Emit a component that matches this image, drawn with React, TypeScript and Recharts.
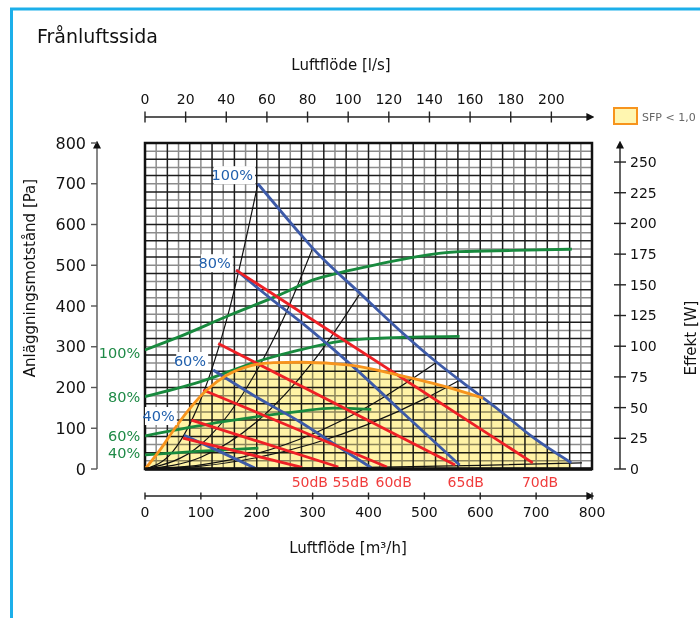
import React from 'react';
import {
  ComposedChart,
  Line,
  Area,
  XAxis,
  YAxis,
  CartesianGrid,
  ReferenceArea,
  ReferenceLine,
  ReferenceDot,
} from 'recharts';

type Pt = [number, number];

const FONT = '"DejaVu Sans", Verdana, sans-serif';

// axis ticks
const flowTicks = [0, 100, 200, 300, 400, 500, 600, 700, 800];
const lsTicks = [0, 20, 40, 60, 80, 100, 120, 140, 160, 180, 200];
const paTicks = [0, 100, 200, 300, 400, 500, 600, 700, 800];
const wTicks = [0, 25, 50, 75, 100, 125, 150, 175, 200, 225, 250];
const gridMajor = [0, 40, 80, 120, 160, 200, 240, 280, 320, 360, 400, 440, 480, 520, 560, 600, 640, 680, 720, 760, 800];
const gridMinor = [20, 60, 100, 140, 180, 220, 260, 300, 340, 380, 420, 460, 500, 540, 580, 620, 660, 700, 740, 780];

// anläggningskurvor (svarta), [m3/h, Pa]
const sysA: Pt[] = [[0, 0], [50, 43], [100, 171], [150, 386], [202, 700]];
const sysB: Pt[] = [[0, 0], [100, 60], [150, 135], [200, 241], [250, 376], [300, 542]];
const sysC: Pt[] = [[0, 0], [100, 29], [200, 116], [300, 262], [385, 431]];
const sysD: Pt[] = [[0, 0], [100, 10], [200, 38], [300, 86], [400, 154], [522, 262]];
const sysE: Pt[] = [[0, 0], [100, 7], [200, 28], [300, 62], [400, 110], [500, 172], [563, 218]];
const sysF: Pt[] = [[0, 0], [200, 1], [400, 4], [600, 9], [782, 15]];

// fläktkurvor (blå), [m3/h, Pa]
const fan100: Pt[] = [[202, 700], [277, 578], [300, 542], [385, 431], [456, 340], [522, 262], [563, 218], [635, 143], [694, 78], [763, 15]];
const fan80: Pt[] = [[163, 488], [229, 414], [277, 363], [367, 258], [460, 140], [563, 10]];
const fan60: Pt[] = [[122, 243], [200, 176], [277, 116], [340, 60], [405, 3]];
const fan40: Pt[] = [[70, 83], [135, 42], [200, 0]];

// ljudnivå (röda), [m3/h, Pa]
const db70: Pt[] = [[163, 488], [694, 15]];
const db65: Pt[] = [[131, 308], [555, 10]];
const db60: Pt[] = [[104, 194], [433, 5]];
const db55: Pt[] = [[83, 120], [346, 5]];
const db50: Pt[] = [[68, 76], [281, 4]];

// effekt (gröna), [m3/h, W]
const pow100: Pt[] = [[0, 97], [63, 108], [150, 125], [242, 142], [301, 154], [349, 160], [420, 167], [487, 173], [563, 177], [660, 178], [764, 179]];
const pow80: Pt[] = [[0, 59], [98, 71], [211, 89], [277, 97], [349, 104], [420, 106.5], [563, 108]];
const pow60: Pt[] = [[0, 27], [140, 38.5], [277, 47], [337, 49.5], [405, 48.5]];
const pow40: Pt[] = [[0, 11.5], [100, 14.5], [203, 17]];

// SFP < 1,0 gräns (orange)
const sfpLimit: Pt[] = [[0, 0], [27, 47], [51, 95], [80, 148], [110, 193], [146, 230], [185, 252], [230, 261], [280, 262], [367, 255], [456, 230], [516, 210], [605, 174]];
const sfpFill: Pt[] = [...sfpLimit, ...fan100.filter(([q]) => q > 605)];

// etiketter
const fanLabels = ['100%', '80%', '60%', '40%'];
const fanLabelFlow = [197, 157, 113, 57];
const fanLabelPa = [721, 505, 265, 130];
const powLabels = ['100%', '80%', '60%', '40%'];
const powLabelW = [94.5, 58.5, 27, 13];
const powLabelFlow = -5;
const dbLabels = ['50dB', '55dB', '60dB', '65dB', '70dB'];
const dbLabelFlow = [295, 368, 445, 574, 707];
const dbLabelPa = -32;

const BLUE = '#3d5aa8';
const RED = '#ee2026';
const GREEN = '#188a3e';
const ORANGE = '#f7941d';

const toRows = (pts: Pt[]) => pts.map(([x, y]) => ({ x, y }));

function TagLabel({ cx, cy, text, color, box }: any) {
  const w = text.length * 9.3 + 4;
  return (
    <g>
      {box && <rect x={cx - w} y={cy - 9} width={w} height={18} fill="#fff" />}
      <text x={cx - 2} y={cy} dy="0.36em" textAnchor="end" fill={color} fontSize={14.5} fontFamily={FONT}>
        {text}
      </text>
    </g>
  );
}

export default function App() {
  const tickFont = { fill: '#111', fontSize: 14, fontFamily: FONT };
  const series = (pts: Pt[], key: string, stroke: string, width: number, yId = 'v2Pa', type: any = 'monotone') => (
    <Line
      key={key}
      data={toRows(pts)}
      xAxisId="v2Flow"
      yAxisId={yId}
      dataKey="y"
      type={type}
      stroke={stroke}
      strokeWidth={width}
      dot={false}
      activeDot={false}
      isAnimationActive={false}
    />
  );

  return (
    <div style={{ position: 'absolute', left: 0, top: 0, width: 700, height: 618, background: '#fff', overflow: 'hidden' }}>
      <style>{'.sfpFill { mix-blend-mode: multiply; }'}</style>
      <ComposedChart width={700} height={618} margin={{ top: 0, right: 0, bottom: 62, left: 0 }}>
        {/* spacer axes (s1*) sit next to the grid, the drawn axes (v2*) outside them */}
        <XAxis xAxisId="s1Top" orientation="top" type="number" domain={[0, 1]} allowDataOverflow height={26} tick={false} axisLine={false} tickLine={false} />
        <XAxis xAxisId="s1Bottom" orientation="bottom" type="number" domain={[0, 1]} allowDataOverflow height={27} tick={false} axisLine={false} tickLine={false} />
        <YAxis yAxisId="s1Left" orientation="left" type="number" domain={[0, 1]} allowDataOverflow width={48} tick={false} axisLine={false} tickLine={false} />
        <YAxis yAxisId="s1Right" orientation="right" type="number" domain={[0, 1]} allowDataOverflow width={28} tick={false} axisLine={false} tickLine={false} />
        <XAxis
          xAxisId="v2Ls"
          orientation="top"
          type="number"
          dataKey="x"
          domain={[0, 220]}
          allowDataOverflow
          ticks={lsTicks}
          interval={0}
          height={117}
          tickSize={11}
          tickMargin={2}
          tick={tickFont}
          axisLine={{ stroke: '#222', strokeWidth: 1.4, markerEnd: 'url(#arrowHead)' }}
          tickLine={{ stroke: '#222', strokeWidth: 1.4, transform: 'translate(0,5.5)' }}
        />
        <XAxis
          xAxisId="v2Flow"
          orientation="bottom"
          type="number"
          dataKey="x"
          domain={[0, 800]}
          allowDataOverflow
          ticks={flowTicks}
          interval={0}
          height={60}
          tickSize={7}
          tickMargin={4}
          tick={tickFont}
          axisLine={{ stroke: '#222', strokeWidth: 1.4, markerEnd: 'url(#arrowHead)' }}
          tickLine={{ stroke: '#222', strokeWidth: 1.4, transform: 'translate(0,-3.5)' }}
        />
        <YAxis
          yAxisId="v2Pa"
          orientation="left"
          type="number"
          domain={[0, 800]}
          allowDataOverflow
          ticks={paTicks}
          interval={0}
          width={97}
          tickSize={6}
          tickMargin={5}
          tick={{ ...tickFont, fontSize: 16 }}
          axisLine={{ stroke: '#555', strokeWidth: 1.4, markerStart: 'url(#arrowHead)' }}
          tickLine={{ stroke: '#555', strokeWidth: 1.4 }}
        />
        <YAxis
          yAxisId="v2W"
          orientation="right"
          type="number"
          domain={[0, 265.5]}
          allowDataOverflow
          ticks={wTicks}
          interval={0}
          width={80}
          tickSize={12}
          tickMargin={-2}
          tick={tickFont}
          axisLine={{ stroke: '#222', strokeWidth: 1.4, markerStart: 'url(#arrowHead)' }}
          tickLine={{ stroke: '#222', strokeWidth: 1.4, transform: 'translate(-6,0)' }}
        />

        <CartesianGrid xAxisId="v2Flow" yAxisId="v2Pa" verticalValues={gridMinor} horizontalValues={gridMinor} stroke="#8c8c8c" strokeWidth={1.5} />
        <CartesianGrid xAxisId="v2Flow" yAxisId="v2Pa" verticalValues={gridMajor} horizontalValues={gridMajor} stroke="#1c1c1c" strokeWidth={1.5} />

        {/* invisible carrier so the l/s axis gets its ticks */}
        <Line
          data={lsTicks.map((v) => ({ x: v, y: 0 }))}
          xAxisId="v2Ls"
          yAxisId="v2Pa"
          dataKey="y"
          stroke="none"
          dot={false}
          activeDot={false}
          isAnimationActive={false}
        />

        <Area
          className="sfpFill"
          data={toRows(sfpFill)}
          xAxisId="v2Flow"
          yAxisId="v2Pa"
          dataKey="y"
          type="monotone"
          stroke="none"
          fill="#fff3a6"
          fillOpacity={1}
          isAnimationActive={false}
        />

        {[sysA, sysB, sysC, sysD, sysE, sysF].map((c, i) => series(c, `sys${i}`, '#111', 1.2))}
        {[pow100, pow80, pow60, pow40].map((c, i) => series(c, `pow${i}`, GREEN, 2.8, 'v2W'))}
        {[fan100, fan80, fan60, fan40].map((c, i) => series(c, `fan${i}`, BLUE, 2.8))}
        {[db70, db65, db60, db55, db50].map((c, i) => series(c, `db${i}`, RED, 2.8, 'v2Pa', 'linear'))}
        {series(sfpLimit, 'sfp', ORANGE, 2.8)}

        <ReferenceArea xAxisId="v2Flow" yAxisId="v2Pa" x1={0} x2={800} y1={0} y2={800} fill="none" stroke="#111" strokeWidth={2.5} ifOverflow="visible" />
        <ReferenceLine xAxisId="v2Flow" yAxisId="v2Pa" y={0} stroke="#111" strokeWidth={3.5} ifOverflow="visible" />

        {fanLabels.map((t, i) => (
          <ReferenceDot
            key={`fl${i}`}
            xAxisId="v2Flow"
            yAxisId="v2Pa"
            x={fanLabelFlow[i]}
            y={fanLabelPa[i]}
            r={0}
            ifOverflow="visible"
            shape={(p: any) => <TagLabel cx={p.cx} cy={p.cy} text={t} color="#2160ad" box />}
          />
        ))}
        {powLabels.map((t, i) => (
          <ReferenceDot
            key={`pl${i}`}
            xAxisId="v2Flow"
            yAxisId="v2W"
            x={powLabelFlow}
            y={powLabelW[i]}
            r={0}
            ifOverflow="visible"
            shape={(p: any) => <TagLabel cx={p.cx} cy={p.cy} text={t} color="#1f8a47" />}
          />
        ))}
        {dbLabels.map((t, i) => (
          <ReferenceDot
            key={`dl${i}`}
            xAxisId="v2Flow"
            yAxisId="v2Pa"
            x={dbLabelFlow[i]}
            y={dbLabelPa}
            r={0}
            ifOverflow="visible"
            shape={(p: any) => (
              <text x={p.cx} y={p.cy} dy="0.36em" textAnchor="middle" fill="#f03c3c" fontSize={14} fontFamily={FONT}>
                {t}
              </text>
            )}
          />
        ))}
      </ComposedChart>

      <svg width={700} height={618} style={{ position: 'absolute', left: 0, top: 0, pointerEvents: 'none' }}>
        <defs>
          <marker id="arrowHead" viewBox="0 0 10 10" refX="7" refY="5" markerWidth="8" markerHeight="8" markerUnits="userSpaceOnUse" orient="auto-start-reverse">
            <path d="M0,0 L10,5 L0,10 z" fill="#111" />
          </marker>
        </defs>
        <line x1={10} y1={9} x2={700} y2={9} stroke="#1cafea" strokeWidth={3} />
        <line x1={11.5} y1={8} x2={11.5} y2={618} stroke="#1cafea" strokeWidth={3} />
        <text x={37} y={43} fontSize={19} fontFamily={FONT} fill="#111">Frånluftssida</text>
        <text x={341} y={70} fontSize={15} fontFamily={FONT} fill="#111" textAnchor="middle">Luftflöde [l/s]</text>
        <text x={348} y={553} fontSize={15} fontFamily={FONT} fill="#111" textAnchor="middle">Luftflöde [m³/h]</text>
        <text x={35} y={278} fontSize={15} fontFamily={FONT} fill="#111" textAnchor="middle" transform="rotate(-90 35 278)">
          Anläggningsmotstånd [Pa]
        </text>
        <text x={696} y={338} fontSize={15} fontFamily={FONT} fill="#111" textAnchor="middle" transform="rotate(-90 696 338)">
          Effekt [W]
        </text>
        <rect x={614} y={108} width={23} height={16} fill="#fff6b0" stroke={ORANGE} strokeWidth={2} />
        <text x={642} y={121} fontSize={11} fontFamily={FONT} fill="#666">SFP &lt; 1,0</text>
      </svg>
    </div>
  );
}
